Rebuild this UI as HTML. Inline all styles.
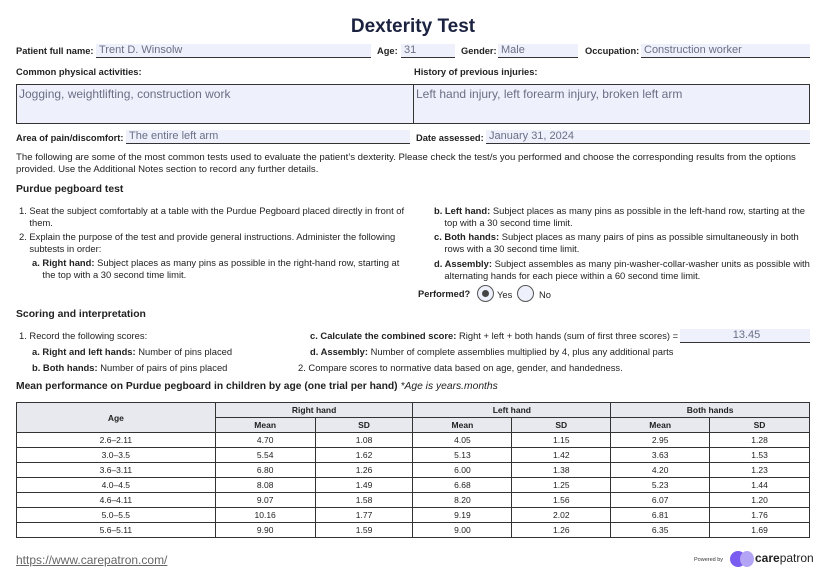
<!DOCTYPE html>
<html><head><meta charset="utf-8"><style>
*{margin:0;padding:0;box-sizing:border-box}
body{width:826px;height:581px;background:#fff;font-family:"Liberation Sans",Arial,sans-serif;color:#222;position:relative;overflow:hidden}
.a{position:absolute;white-space:nowrap}
.lb{font-size:9.3px;font-weight:bold}
.f{position:absolute;background:#eef0fb;border-bottom:1px solid #333;color:#6a6f85;font-size:11px;padding-left:3px;line-height:13px}
.t{font-size:9.4px;line-height:11.8px}
.box{position:absolute;border:1px solid #333;background:#eef0fb;color:#6a6f85;font-size:12px;padding:2px 2px}
table{position:absolute;left:16px;top:402px;width:794px;border-collapse:collapse;font-size:8.5px}
td,th{border:1px solid #333;height:15px;text-align:center;padding:0}
th{background:#e8e9ef;font-weight:bold}
.rad{position:absolute;width:17px;height:17px;border:1px solid #555;border-radius:50%;background:#eef0fb}
</style></head><body>
<div class="a" style="left:0;width:826px;text-align:center;top:16px;font-size:19px;font-weight:bold;color:#1b2240">Dexterity Test</div>

<div class="a lb" style="left:16px;top:46px">Patient full name:</div>
<div class="f" style="left:96px;top:44px;width:275px">Trent D. Winsolw</div>
<div class="a lb" style="left:377px;top:46px">Age:</div>
<div class="f" style="left:401px;top:44px;width:54px">31</div>
<div class="a lb" style="left:461px;top:46px">Gender:</div>
<div class="f" style="left:498px;top:44px;width:80px">Male</div>
<div class="a lb" style="left:585px;top:46px">Occupation:</div>
<div class="f" style="left:641px;top:44px;width:169px">Construction worker</div>

<div class="a lb" style="left:16px;top:67px">Common physical activities:</div>
<div class="a lb" style="left:414px;top:67px">History of previous injuries:</div>
<div class="box" style="left:16px;top:84px;width:398px;height:40px">Jogging, weightlifting, construction work</div>
<div class="box" style="left:413px;top:84px;width:397px;height:40px">Left hand injury, left forearm injury, broken left arm</div>

<div class="a lb" style="left:16px;top:133px">Area of pain/discomfort:</div>
<div class="f" style="left:126px;top:130px;width:284px">The entire left arm</div>
<div class="a lb" style="left:416px;top:133px">Date assessed:</div>
<div class="f" style="left:486px;top:130px;width:324px">January 31, 2024</div>

<div class="a t" style="left:16px;top:152px;font-size:9.6px">The following are some of the most common tests used to evaluate the patient’s dexterity. Please check the test/s you performed and choose the corresponding results from the options<br>provided. Use the Additional Notes section to record any further details.</div>

<div class="a" style="left:16px;top:184px;font-size:10.4px;font-weight:bold">Purdue pegboard test</div>

<div class="a t" style="left:19px;top:205px">1. Seat the subject comfortably at a table with the Purdue Pegboard placed directly in front of<br>&nbsp;&nbsp;&nbsp;&nbsp;them.</div>
<div class="a t" style="left:19px;top:231px">2. Explain the purpose of the test and provide general instructions. Administer the following<br>&nbsp;&nbsp;&nbsp;&nbsp;subtests in order:</div>
<div class="a t" style="left:32px;top:257px"><b>a. Right hand:</b> Subject places as many pins as possible in the right-hand row, starting at<br>&nbsp;&nbsp;&nbsp;&nbsp;the top with a 30 second time limit.</div>

<div class="a t" style="left:434px;top:205px"><b>b. Left hand:</b> Subject places as many pins as possible in the left-hand row, starting at the<br>&nbsp;&nbsp;&nbsp;&nbsp;top with a 30 second time limit.</div>
<div class="a t" style="left:434px;top:231px"><b>c. Both hands:</b> Subject places as many pairs of pins as possible simultaneously in both<br>&nbsp;&nbsp;&nbsp;&nbsp;rows with a 30 second time limit.</div>
<div class="a t" style="left:434px;top:258px"><b>d. Assembly:</b> Subject assembles as many pin-washer-collar-washer units as possible with<br>&nbsp;&nbsp;&nbsp;&nbsp;alternating hands for each piece within a 60 second time limit.</div>
<div class="a lb" style="left:418px;top:289px">Performed?</div>
<div class="rad" style="left:477px;top:285px"><div style="position:absolute;left:4px;top:4px;width:7px;height:7px;border-radius:50%;background:#444"></div></div>
<div class="a t" style="left:497px;top:289px">Yes</div>
<div class="rad" style="left:517px;top:285px"></div>
<div class="a t" style="left:539px;top:289px">No</div>

<div class="a" style="left:16px;top:309px;font-size:10.4px;font-weight:bold">Scoring and interpretation</div>
<div class="a t" style="left:19px;top:330px">1. Record the following scores:</div>
<div class="a t" style="left:32px;top:346px"><b>a. Right and left hands:</b> Number of pins placed</div>
<div class="a t" style="left:32px;top:362px"><b>b. Both hands:</b> Number of pairs of pins placed</div>
<div class="a t" style="left:310px;top:330px"><b>c. Calculate the combined score:</b> Right + left + both hands (sum of first three scores) =</div>
<div class="f" style="left:680px;top:329px;width:130px;text-align:center">13.45</div>
<div class="a t" style="left:310px;top:346px"><b>d. Assembly:</b> Number of complete assemblies multiplied by 4, plus any additional parts</div>
<div class="a t" style="left:298px;top:362px">2. Compare scores to normative data based on age, gender, and handedness.</div>

<div class="a" style="left:16px;top:381px;font-size:10.3px;font-weight:bold">Mean performance on Purdue pegboard in children by age (one trial per hand) <i style="font-weight:normal">*Age is years.months</i></div>

<table>
<colgroup><col style="width:199px"><col style="width:100px"><col style="width:98px"><col style="width:99px"><col style="width:99px"><col style="width:99px"><col style="width:100px"></colgroup>
<tr><th rowspan="2">Age</th><th colspan="2">Right hand</th><th colspan="2">Left hand</th><th colspan="2">Both hands</th></tr>
<tr><th>Mean</th><th>SD</th><th>Mean</th><th>SD</th><th>Mean</th><th>SD</th></tr>
<tr><td>2.6–2.11</td><td>4.70</td><td>1.08</td><td>4.05</td><td>1.15</td><td>2.95</td><td>1.28</td></tr>
<tr><td>3.0–3.5</td><td>5.54</td><td>1.62</td><td>5.13</td><td>1.42</td><td>3.63</td><td>1.53</td></tr>
<tr><td>3.6–3.11</td><td>6.80</td><td>1.26</td><td>6.00</td><td>1.38</td><td>4.20</td><td>1.23</td></tr>
<tr><td>4.0–4.5</td><td>8.08</td><td>1.49</td><td>6.68</td><td>1.25</td><td>5.23</td><td>1.44</td></tr>
<tr><td>4.6–4.11</td><td>9.07</td><td>1.58</td><td>8.20</td><td>1.56</td><td>6.07</td><td>1.20</td></tr>
<tr><td>5.0–5.5</td><td>10.16</td><td>1.77</td><td>9.19</td><td>2.02</td><td>6.81</td><td>1.76</td></tr>
<tr><td>5.6–5.11</td><td>9.90</td><td>1.59</td><td>9.00</td><td>1.26</td><td>6.35</td><td>1.69</td></tr>
</table>

<div class="a" style="left:16px;top:553px;font-size:12px;color:#666;text-decoration:underline">https://www.carepatron.com/</div>
<div class="a" style="left:694px;top:557px;font-size:5.5px;color:#333">Powered by</div>
<div class="a" style="left:730px;top:551px;width:16px;height:16px;border-radius:50%;background:#7b5cf0"></div>
<div class="a" style="left:740px;top:551px;width:14px;height:16px;border-radius:50%;background:#b4a4f5"></div>
<div class="a" style="left:755px;top:551px;font-size:12px;color:#222"><b>care</b>patron</div>
</body></html>
